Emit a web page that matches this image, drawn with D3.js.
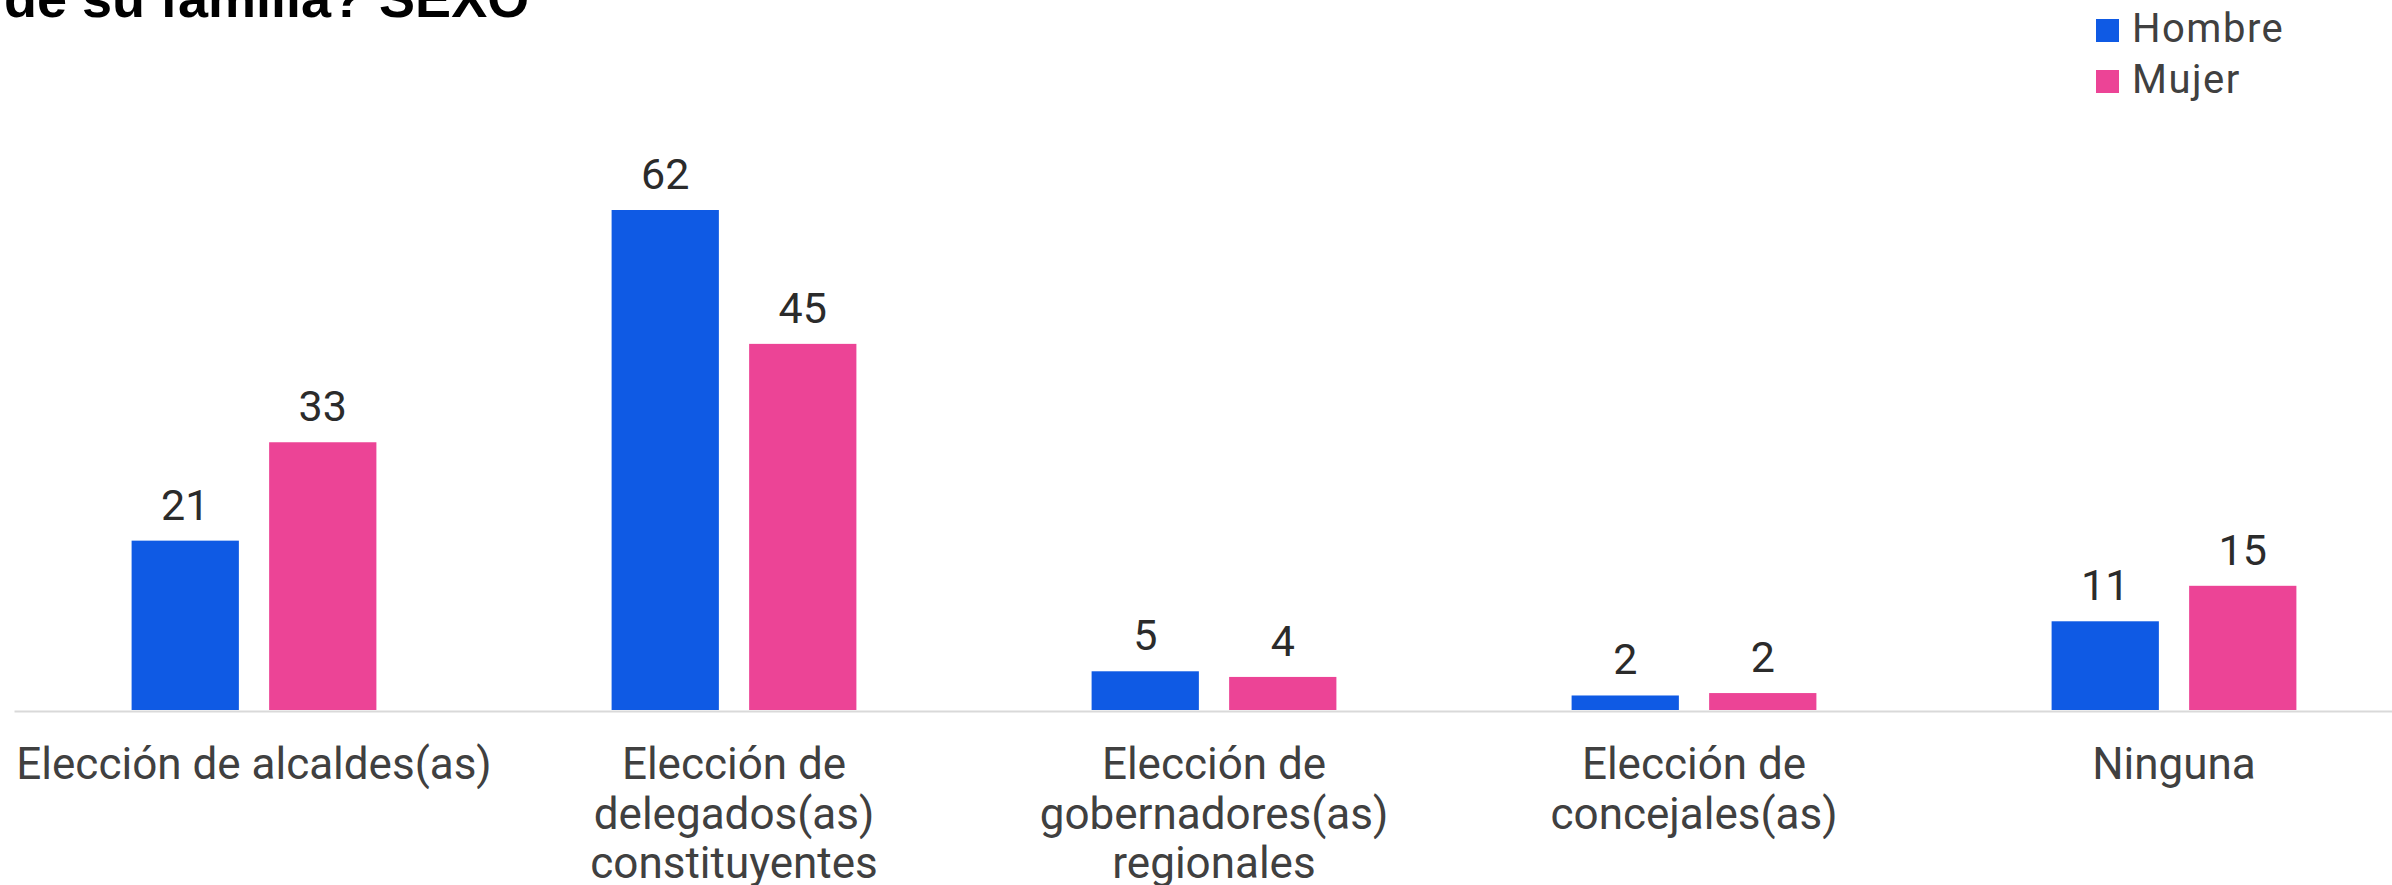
<!DOCTYPE html>
<html>
<head>
<meta charset="utf-8">
<script src="https://cdn.jsdelivr.net/npm/d3@7"></script>
<style>
    html, body { margin: 0; padding: 0; background: #fff; overflow: hidden; }
    svg { display: block; }
</style>
</head>
<body>
<div id="chart"></div>
<script>
// Datos
var categories = [
    'Elección de alcaldes(as)',
    'Elección de delegados(as) constituyentes',
    'Elección de gobernadores(as) regionales',
    'Elección de concejales(as)',
    'Ninguna'
];
var seriesNames = ['Hombre', 'Mujer'];
var hombre = [21, 62, 4.8, 1.8, 11];
var mujer  = [33.2, 45.4, 4.1, 2.1, 15.4];
var colors = ['#0f5ae4', '#ec4496'];
var titleText = 'de su familia? SEXO';

(function () {
    var width = 2392, height = 885;
    var baseY = 710;

    var svg = d3.select('#chart')
        .append('svg')
        .attr('width', width)
        .attr('height', height);

    var x0 = d3.scaleBand()
        .domain(categories)
        .range([14, 2414])
        .paddingInner(0.49)
        .paddingOuter(0.245);

    var x1 = d3.scaleBand()
        .domain(seriesNames)
        .range([0, x0.bandwidth()])
        .paddingInner(0.22);

    var y = d3.scaleLinear()
        .domain([0, 62])
        .range([baseY, 210]);

    var rows = categories.map(function (c, i) {
        return { cat: c, values: [
            { name: 'Hombre', value: hombre[i], color: colors[0] },
            { name: 'Mujer', value: mujer[i], color: colors[1] }
        ]};
    });

    var groups = svg.selectAll('g.grp')
        .data(rows)
        .enter().append('g')
        .attr('class', 'grp')
        .attr('transform', function (d) { return 'translate(' + x0(d.cat) + ',0)'; });

    groups.selectAll('rect')
        .data(function (d) { return d.values; })
        .enter().append('rect')
        .attr('x', function (d) { return x1(d.name); })
        .attr('y', function (d) { return y(d.value); })
        .attr('width', x1.bandwidth())
        .attr('height', function (d) { return baseY - y(d.value); })
        .attr('fill', function (d) { return d.color; });

    // etiquetas de valor
    groups.selectAll('text.val')
        .data(function (d) { return d.values; })
        .enter().append('text')
        .attr('class', 'val')
        .attr('x', function (d) { return x1(d.name) + x1.bandwidth() / 2; })
        .attr('y', function (d) { return y(d.value) - 21; })
        .attr('text-anchor', 'middle')
        .attr('font-family', 'Roboto, sans-serif')
        .attr('font-size', 43)
        .attr('fill', '#2b2b2b')
        .text(function (d) { return d3.format('.0f')(d.value); });

    // eje x
    var axis = svg.append('g')
        .attr('transform', 'translate(0,' + (baseY + 1) + ')')
        .call(d3.axisBottom(x0).tickSize(0).tickSizeOuter(0).tickPadding(0));

    axis.select('.domain')
        .attr('stroke', '#d9d9d9')
        .attr('stroke-width', 2);

    axis.selectAll('.tick text')
        .attr('font-family', 'Roboto, sans-serif')
        .attr('font-size', 44)
        .attr('fill', '#404040')
        .attr('dy', null)
        .attr('y', 68)
        .call(wrap, 495);

    function wrap(sel, maxW) {
        sel.each(function () {
            var text = d3.select(this);
            var words = text.text().split(/\s+/);
            var yy = text.attr('y');
            text.text(null);
            var line = [];
            var lineNo = 0;
            var tspan = text.append('tspan').attr('x', 0).attr('y', yy);
            words.forEach(function (w) {
                line.push(w);
                tspan.text(line.join(' '));
                if (tspan.node().getComputedTextLength() > maxW && line.length > 1) {
                    line.pop();
                    tspan.text(line.join(' '));
                    line = [w];
                    lineNo++;
                    tspan = text.append('tspan').attr('x', 0)
                        .attr('y', +yy + lineNo * 49.5).text(w);
                }
            });
        });
    }

    // titulo (cortado arriba)
    svg.append('text')
        .attr('x', 4)
        .attr('y', 17)
        .attr('font-family', '"Liberation Sans", Arial, sans-serif')
        .attr('font-weight', 'bold')
        .attr('font-size', 54)
        .attr('fill', '#000')
        .text(titleText);

    // leyenda
    var legend = svg.append('g').attr('transform', 'translate(2096,19)');
    seriesNames.forEach(function (s, i) {
        legend.append('rect')
            .attr('x', 0)
            .attr('y', i * 51)
            .attr('width', 23)
            .attr('height', 23)
            .attr('fill', colors[i]);
        legend.append('text')
            .attr('x', 36)
            .attr('y', i * 51 + 23)
            .attr('font-family', 'Roboto, sans-serif')
            .attr('font-size', 40)
            .attr('letter-spacing', 1.5)
            .attr('fill', '#404040')
            .text(s);
    });
})();
</script>
</body>
</html>
